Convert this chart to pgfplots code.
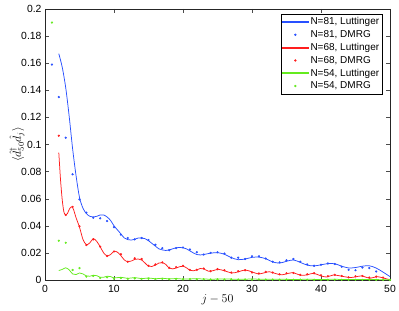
\documentclass[border=0pt]{standalone}
\usepackage{fontspec}
\setmainfont{Liberation Sans}
\usepackage{pgfplots}
\pgfplotsset{compat=1.18}
\definecolor{lutblue}{RGB}{40,80,255}
\definecolor{lutred}{RGB}{255,30,30}
\definecolor{lutgreen}{RGB}{100,235,30}
\pgfplotsset{
  lineleg/.style={legend image code/.code={\fill[#1] (0cm,-0.45pt) rectangle (0.9cm,0.45pt);}},
  dotleg/.style={legend image code/.code={\fill[#1] (0.45cm,0cm) circle (0.9pt);}},
}
\begin{document}
\begin{tikzpicture}
\begin{axis}[
  name=ax,
  scale only axis,
  width=345pt, height=271pt,
  xmin=0, xmax=50, ymin=0, ymax=0.2,
  xtick={0,10,20,30,40,50},
  ytick={0,0.02,0.04,0.06,0.08,0.1,0.12,0.14,0.16,0.18,0.2},
  /pgf/number format/assume math mode=true,
  yticklabel style={/pgf/number format/fixed,/pgf/number format/precision=2},
  xticklabel style={yshift=-1.5pt},
  scaled y ticks=false,
  tick label style={font=\fontsize{10.4}{12}\selectfont},
  tick align=inside,
  major tick length=4pt,
  tick style={black!70, line width=0.4pt},
  axis line style={black!85, line width=0.5pt},
  xlabel={$j-50$},
  ylabel={$\langle \hat{d}^{\dagger}_{50}\hat{d}_j\rangle$},
  xlabel style={at={(axis description cs:0.5,-0.074)}, anchor=center},
  ylabel style={at={(axis description cs:-0.081,0.5)}, anchor=center, font=\fontsize{13}{15}\selectfont},
  label style={font=\fontsize{12}{14}\selectfont},
  legend cell align=left,
  legend style={at={(0.978,0.982)}, anchor=north east, font=\fontsize{10}{12}\selectfont,
    draw=black, line width=0.5pt, inner xsep=1pt, inner ysep=1.5pt, row sep=0.2pt},
]
\addplot[color=lutblue, line width=0.75pt, smooth, no marks, lineleg=lutblue] coordinates {
(2,0.167)(2.5,0.157)(3,0.142)(3.5,0.121)(4,0.097)(4.5,0.077)(5,0.061)(5.5,0.053)(6,0.049)(6.5,0.047)(7,0.0465)(7.5,0.047)(8,0.048)(8.5,0.048)(9,0.0465)(9.5,0.044)(10,0.040)(10.5,0.037)(11,0.034)(11.5,0.031)(12,0.0298)(12.5,0.0295)(13,0.030)(13.5,0.031)(14,0.031)(14.5,0.0305)(15,0.029)(15.5,0.027)(16,0.025)(16.5,0.023)(17,0.0222)(17.5,0.0218)(18,0.0222)(18.5,0.023)(19,0.0238)(19.5,0.024)(20,0.0238)(20.5,0.023)(21,0.0215)(21.5,0.020)(22,0.0188)(22.5,0.0185)(23,0.0188)(24,0.0198)(25,0.0202)(26,0.019)(27,0.0165)(28,0.015)(29,0.0155)(30,0.0167)(31,0.0169)(32,0.0157)(33,0.0133)(34,0.0125)(35,0.0138)(36,0.0148)(37,0.013)(38,0.011)(39,0.0104)(40,0.0112)(41,0.0121)(42,0.012)(43,0.0102)(44,0.0089)(45,0.0092)(46,0.0102)(47,0.0105)(48,0.0088)(49,0.0058)(50,0.0025)
};
\addlegendentry{N=81, Luttinger}
\addplot[color=lutblue, only marks, mark=*, mark size=0.9pt, dotleg=lutblue] coordinates {
(1,0.159)(2,0.135)(3,0.105)(4,0.078)(5,0.0595)(6,0.0497)(7,0.046)(8,0.0455)(9,0.0435)(10,0.039)(11,0.0335)(12,0.031)(13,0.030)(14,0.031)(15,0.0295)(16,0.026)(17,0.0235)(18,0.022)(19,0.0235)(20,0.024)(21,0.0225)(22,0.0205)(23,0.0188)(24,0.020)(25,0.0205)(26,0.0195)(27,0.0165)(28,0.0165)(29,0.0155)(30,0.0175)(31,0.0175)(32,0.0158)(33,0.0135)(34,0.013)(35,0.0145)(36,0.0155)(37,0.0135)(38,0.0115)(39,0.0105)(40,0.0113)(41,0.0122)(42,0.0118)(43,0.0098)(44,0.0075)(45,0.0072)(46,0.0092)(47,0.0088)(48,0.0063)
};
\addlegendentry{N=81, DMRG}
\addplot[color=lutred, line width=0.75pt, smooth, no marks, lineleg=lutred] coordinates {
(2,0.094)(2.25,0.074)(2.5,0.059)(2.75,0.050)(3,0.048)(3.25,0.049)(3.5,0.052)(3.8,0.054)(4.1,0.0525)(4.5,0.046)(5,0.039)(5.5,0.030)(6,0.026)(6.5,0.0275)(7,0.0305)(7.5,0.0285)(8,0.0245)(8.5,0.020)(9,0.0178)(9.5,0.0188)(10,0.0212)(10.5,0.0205)(11,0.018)(11.5,0.0148)(12,0.0135)(12.5,0.014)(13,0.0152)(13.5,0.0155)(14,0.0148)(14.5,0.0125)(15,0.0102)(15.5,0.010)(16,0.011)(16.5,0.0125)(17,0.0128)(17.5,0.0115)(18,0.0088)(18.5,0.0082)(19,0.0088)(19.5,0.0098)(20,0.0102)(20.5,0.009)(21,0.0072)(21.5,0.0068)(22,0.0075)(22.5,0.0085)(23,0.0082)(23.7,0.0065)(24.3,0.0068)(25.1,0.0079)(26,0.0068)(27.1,0.0052)(28,0.006)(29,0.0074)(30,0.006)(30.9,0.0045)(31.7,0.0052)(32.5,0.0061)(33.4,0.0048)(34.3,0.0038)(35.2,0.0048)(36,0.0054)(37,0.0035)(38,0.0038)(38.9,0.005)(39.9,0.0032)(40.8,0.0022)(41.8,0.0037)(43,0.0028)(44.2,0.0018)(45.1,0.0024)(45.9,0.003)(47.1,0.0013)(48.1,0.0025)(49,0.0015)(50,0.0002)
};
\addlegendentry{N=68, Luttinger}
\addplot[color=lutred, only marks, mark=*, mark size=0.9pt, dotleg=lutred] coordinates {
(2,0.1065)(3,0.048)(4,0.054)(5,0.0397)(6,0.0258)(7,0.030)(8,0.0246)(9,0.0177)(10,0.021)(11,0.019)(12,0.0135)(13,0.016)(14,0.0155)(15,0.0105)(16,0.0115)(17,0.013)(18,0.009)(19,0.0095)(20,0.0105)(21,0.0075)(22,0.0075)(23,0.0085)(24,0.0065)(25,0.008)(26,0.0072)(27,0.0055)(28,0.0065)(29,0.0072)(30,0.0055)(31,0.0048)(32,0.006)(33,0.0055)(34,0.0042)(35,0.005)(36,0.0052)(37,0.0038)(38,0.0042)(39,0.005)(40,0.0035)(41,0.0028)(42,0.0038)(43,0.003)(44,0.002)(45,0.0028)(46,0.003)(47,0.0018)(48,0.0025)(49,0.0018)
};
\addlegendentry{N=68, DMRG}
\addplot[color=lutgreen, line width=0.75pt, smooth, no marks, lineleg=lutgreen] coordinates {
(2,0.007)(2.5,0.0078)(3,0.009)(3.5,0.0075)(4,0.0045)(4.5,0.004)(5,0.0052)(5.5,0.0045)(6,0.003)(6.5,0.0028)(7,0.0035)(7.5,0.0032)(8,0.002)(8.5,0.002)(9,0.0028)(9.5,0.0025)(10,0.0015)(11,0.002)(12,0.0012)(13,0.0018)(14,0.001)(15,0.0015)(16,0.0009)(17,0.0013)(18,0.0008)(19,0.0011)(20,0.0007)(22,0.0009)(24,0.0006)(26,0.0008)(28,0.0005)(30,0.0007)(32,0.0005)(34,0.0006)(36,0.0004)(38,0.0005)(40,0.0004)(42,0.0005)(44,0.0003)(46,0.0004)(48,0.0003)(50,0.0002)
};
\addlegendentry{N=54, Luttinger}
\addplot[color=lutgreen, only marks, mark=*, mark size=0.9pt, dotleg=lutgreen] coordinates {
(1,0.190)(2,0.029)(3,0.0275)(4,0.0074)(5,0.0088)(6,0.0025)(7,0.003)(8,0.0015)(9,0.002)(10,0.001)(11,0.0015)(12,0.0009)(13,0.0012)(14,0.0008)(15,0.001)(16,0.0007)(17,0.0009)(18,0.0006)(19,0.0008)(20,0.0005)(21,0.0007)(22,0.0005)(23,0.0006)(24,0.0004)(25,0.0005)(26,0.0004)(27,0.0005)(28,0.0003)(29,0.0004)(30,0.0003)(31,0.0004)(32,0.0003)(33,0.0003)(34,0.0002)(35,0.0003)(36,0.0002)(37,0.0003)(38,0.0002)(39,0.0002)(40,0.0002)(41,0.0002)(42,0.0002)(43,0.0002)(44,0.0001)(45,0.0002)(46,0.0001)(47,0.0001)(48,0.0001)(49,0.0001)(50,0.0001)
};
\addlegendentry{N=54, DMRG}
\end{axis}
\pgfresetboundingbox
\path ([shift={(-45pt,-30pt)}]ax.south west) rectangle ([shift={(9pt,9pt)}]ax.north east);
\end{tikzpicture}
\end{document}
